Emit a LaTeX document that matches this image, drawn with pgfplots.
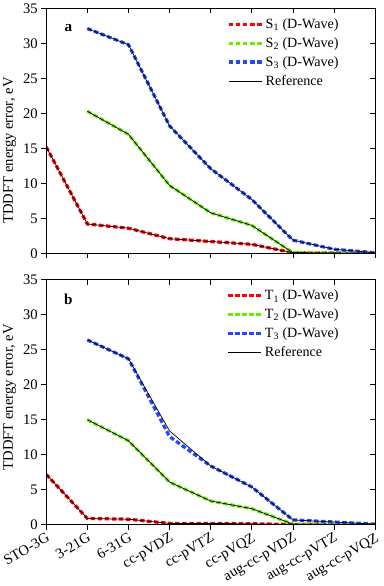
\documentclass[border=0pt]{standalone}
\usepackage{fontspec}
\setmainfont{Liberation Serif}
\usepackage{pgfplots}
\pgfplotsset{compat=1.18}

\definecolor{cred}{RGB}{255,0,0}
\definecolor{cgreen}{RGB}{105,235,0}
\definecolor{cblue}{RGB}{35,70,255}

\pgfplotsset{
  panel/.style={
    scale only axis,
    width=326pt, height=243pt,
    xmin=0, xmax=8, ymin=0, ymax=35,
    xtick={0,...,8}, ytick={0,5,...,35},
    tick align=outside, xtick pos=bottom, ytick pos=left,
    major tick length=5pt,
    axis line style={line width=1pt},
    every tick/.style={black, line width=0.8pt},
    /pgf/number format/assume math mode=true,
    tick label style={font=\fontsize{14.5}{17}\selectfont},
    label style={font=\fontsize{14.5}{17}\selectfont},
    ylabel={TDDFT energy error, eV},
    legend cell align=left,
    legend style={draw=none, fill=none, at={(0.905,0.975)}, anchor=north east,
      font=\fontsize{14}{17}\selectfont, row sep=3.5pt,
      /tikz/every even column/.append style={column sep=5pt}},
    legend image code/.code={\draw[##1] (0pt,0pt) -- (33pt,0pt);},
  },
  frame/.style={
    scale only axis,
    width=326pt, height=243pt,
    xmin=0, xmax=8, ymin=0, ymax=35,
    xtick={0,...,8}, ytick={0,5,...,35},
    tick align=inside, xtick pos=top, ytick pos=right,
    major tick length=5pt,
    axis line style={line width=1pt},
    every tick/.style={black, line width=0.8pt},
    xticklabels={}, yticklabels={},
  },
  dw/.style={line width=3.2pt, dash pattern=on 4.5pt off 2.5pt},
  ref/.style={black, line width=0.7pt},
}

\begin{document}
\begin{tikzpicture}
% panel a
\begin{axis}[panel, xticklabels={}, ylabel style={at={(ticklabel cs:0.42)}}]
\addplot[dw, cred] coordinates {(0,15.2) (1,4.2) (2,3.6) (3,2.1) (4,1.7) (5,1.3) (6,0.1) (7,0.05) (8,0.02)};
\addlegendentry{S\textsubscript{1} (D-Wave)}
\addplot[dw, cgreen] coordinates {(1,20.3) (2,17.0) (3,9.7) (4,5.8) (5,4.0) (6,0.1) (7,0.05) (8,0.02)};
\addlegendentry{S\textsubscript{2} (D-Wave)}
\addplot[dw, cblue] coordinates {(1,32.1) (2,29.8) (3,18.2) (4,12.1) (5,7.7) (6,1.9) (7,0.6) (8,0.1)};
\addlegendentry{S\textsubscript{3} (D-Wave)}
\addplot[ref] coordinates {(0,15.2) (1,4.2) (2,3.6) (3,2.1) (4,1.7) (5,1.3) (6,0.1) (7,0.05) (8,0.02)};
\addlegendentry{Reference}
\addplot[ref, forget plot] coordinates {(1,20.3) (2,17.0) (3,9.7) (4,5.8) (5,4.0) (6,0.1) (7,0.05) (8,0.02)};
\addplot[ref, forget plot] coordinates {(1,32.1) (2,29.8) (3,18.2) (4,12.1) (5,7.7) (6,1.9) (7,0.6) (8,0.1)};
\node[font=\fontsize{15}{17}\selectfont\bfseries] at (rel axis cs:0.067,0.92) {a};
\end{axis}
\begin{axis}[frame]
\end{axis}

% panel b
\begin{scope}[yshift=-269pt]
\begin{axis}[panel,
  xticklabels={STO-3G,3-21G,6-31G,cc-pVDZ,cc-pVTZ,cc-pVQZ,aug-cc-pVDZ,aug-cc-pVTZ,aug-cc-pVQZ},
  xticklabel style={rotate=30, anchor=north east, inner sep=1.5pt},
  ylabel style={at={(ticklabel cs:0.52)}}]
\addplot[dw, cred] coordinates {(0,7.2) (1,0.9) (2,0.8) (3,0.2) (4,0.2) (5,0.15) (6,0.05) (7,0.03) (8,0.02)};
\addlegendentry{T\textsubscript{1} (D-Wave)}
\addplot[dw, cgreen] coordinates {(1,15.0) (2,12.0) (3,6.1) (4,3.4) (5,2.3) (6,0.1) (7,0.05) (8,0.02)};
\addlegendentry{T\textsubscript{2} (D-Wave)}
\addplot[dw, cblue] coordinates {(1,26.4) (2,23.7) (3,12.6) (4,8.4) (5,5.4) (6,0.7) (7,0.4) (8,0.1)};
\addlegendentry{T\textsubscript{3} (D-Wave)}
\addplot[ref] coordinates {(0,7.2) (1,0.9) (2,0.8) (3,0.2) (4,0.2) (5,0.15) (6,0.05) (7,0.03) (8,0.02)};
\addlegendentry{Reference}
\addplot[ref, forget plot] coordinates {(1,15.0) (2,12.0) (3,6.1) (4,3.4) (5,2.3) (6,0.1) (7,0.05) (8,0.02)};
\addplot[ref, forget plot] coordinates {(1,26.4) (2,23.7) (3,13.4) (4,8.4) (5,5.4) (6,0.7) (7,0.4) (8,0.1)};
\node[font=\fontsize{15}{17}\selectfont\bfseries] at (rel axis cs:0.067,0.92) {b};
\end{axis}
\begin{axis}[frame]
\end{axis}
\end{scope}
\end{tikzpicture}
\end{document}
